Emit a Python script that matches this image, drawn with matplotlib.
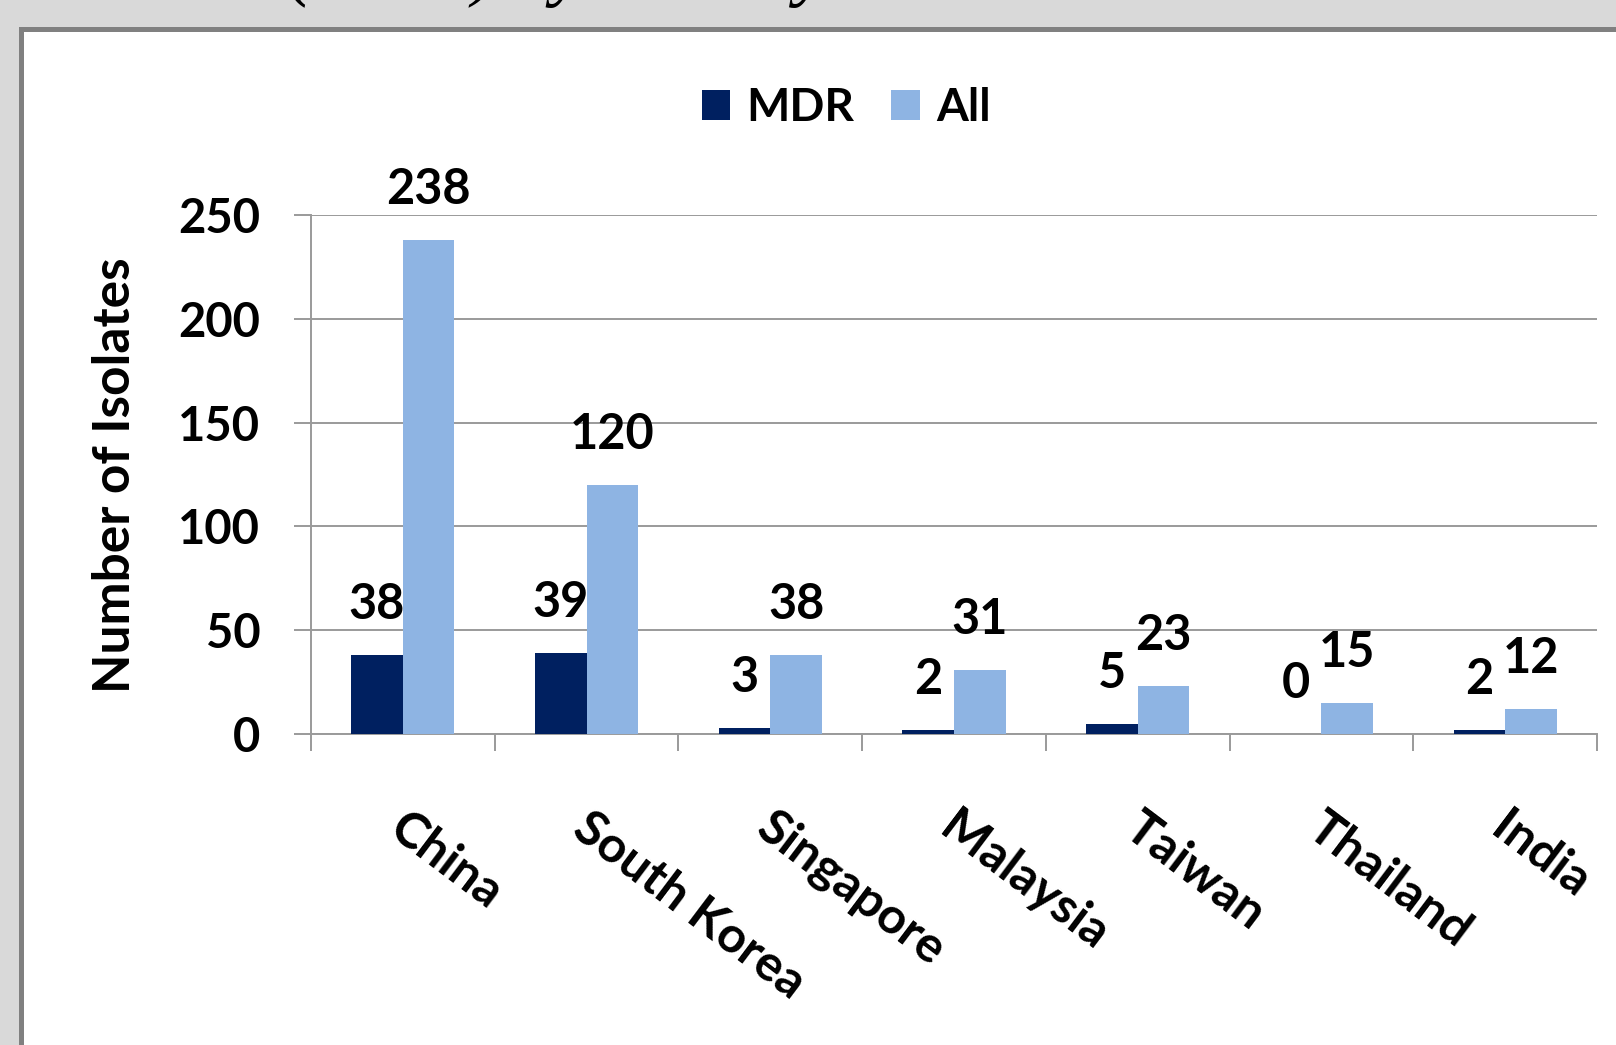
import matplotlib
matplotlib.use("Agg")
import matplotlib.pyplot as plt
import matplotlib.patches as mpatches
import matplotlib.transforms as mtransforms
import numpy as np

countries = ["China", "South Korea", "Singapore", "Malaysia", "Taiwan", "Thailand", "India"]
mdr = [38, 39, 3, 2, 5, 0, 2]
all_isolates = [238, 120, 38, 31, 23, 15, 12]
yticks = [0, 50, 100, 150, 200, 250]

MDR_COLOR = "#002060"
ALL_COLOR = "#8EB4E3"
GRID = "#9a9a9a"
FONT = "Lato"

plt.rcParams["font.family"] = [FONT, "DejaVu Sans"]
plt.rcParams["font.weight"] = "bold"

W, H = 1616, 1045
fig = plt.figure(figsize=(W / 100, H / 100), dpi=100)
fig.patch.set_facecolor("#d9d9d9")

# white chart panel with a grey frame
panel = mpatches.Rectangle((21 / W, -0.05), 1.2, (H - 29) / H + 0.05,
                           transform=fig.transFigure, facecolor="white",
                           edgecolor="#808080", linewidth=3.6, zorder=-5)
fig.patches.append(panel)

# caption line running above the panel (only its lower edge is inside the page)
fig.text(288 / W, 1 + 8 / H, "(MDR) by country", family="Liberation Serif",
         style="italic", weight="normal", fontsize=53, ha="left", va="baseline",
         color="black", zorder=-4)

ax = fig.add_axes([311 / W, 1 - 734 / H, (1597 - 311) / W, (734 - 215) / H])
ax.set_zorder(2)
ax.set_facecolor("none")

x = np.arange(len(countries))
w = 0.281
b1 = ax.bar(x - w / 2, mdr, w, color=MDR_COLOR, zorder=3, label="MDR")
b2 = ax.bar(x + w / 2, all_isolates, w, color=ALL_COLOR, zorder=3, label="All")

ax.set_xlim(-0.5, len(countries) - 0.5)
ax.set_ylim(0, 250)
ax.set_yticks(yticks)
ax.set_yticklabels([str(v) for v in yticks], fontsize=34, fontweight="bold")
ax.yaxis.grid(True, color=GRID, linewidth=1.4, zorder=0)
ax.set_axisbelow(True)

for side in ["top", "right"]:
    ax.spines[side].set_visible(False)
for side in ["left", "bottom"]:
    ax.spines[side].set_color(GRID)
    ax.spines[side].set_linewidth(1.4)

ax.tick_params(axis="y", length=12.5, width=1.4, color=GRID, pad=24)
ax.set_xticks(np.arange(len(countries) + 1) - 0.5)
ax.set_xticklabels([])
ax.tick_params(axis="x", length=12, width=1.4, color=GRID)

# category names, slanted under each group
trans = mtransforms.offset_copy(ax.get_xaxis_transform(), fig=fig, x=0, y=-70, units="dots")
for i, name in enumerate(countries):
    ax.text(i + 0.03, 0, name, transform=trans, rotation=-37, rotation_mode="anchor",
            ha="left", va="top", fontsize=36, fontweight="bold", clip_on=False)

# value labels above the bars
for xs, vals in [(x - w / 2, mdr), (x + w / 2, all_isolates)]:
    for xi, v in zip(xs, vals):
        ax.annotate(str(v), (xi, v), xytext=(0, 26), textcoords="offset points",
                    ha="center", va="baseline", fontsize=35, fontweight="bold")

ax.set_ylabel("Number of Isolates", fontsize=37, fontweight="bold")
ax.yaxis.set_label_coords(139 / W, 1 - 475 / H, transform=fig.transFigure)

fig.legend(handles=[b1, b2], labels=["MDR", "All"], loc="center",
           bbox_to_anchor=(846 / W, 1 - 108 / H), ncol=2, frameon=False,
           handlelength=0.63, handleheight=0.63,
           handletextpad=0.35, columnspacing=0.8, prop={"weight": "bold", "size": 33})

fig.savefig("out.png", dpi=100, facecolor=fig.get_facecolor())
